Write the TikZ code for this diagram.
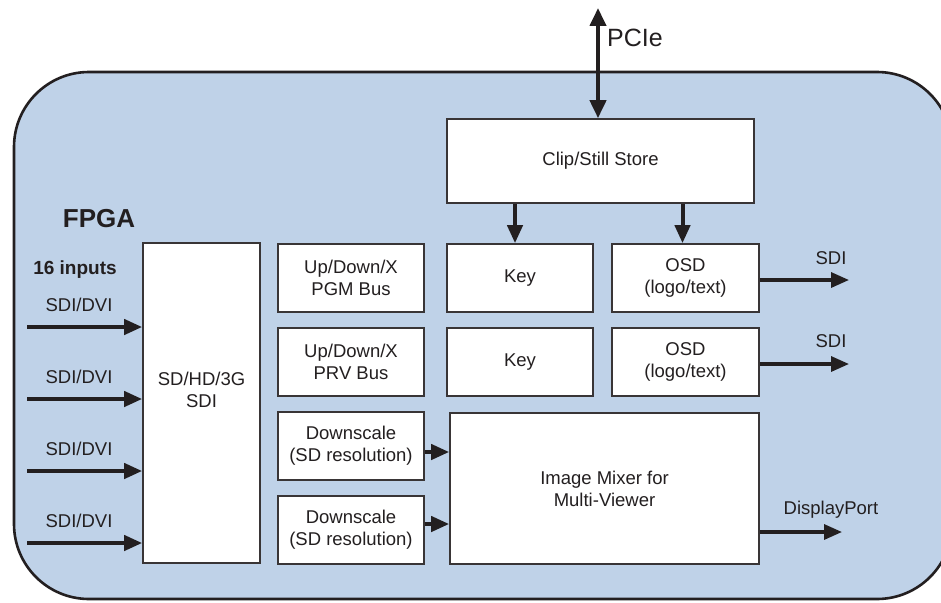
\documentclass[tikz,border=0pt]{standalone}
\usepackage{fontspec}
\setmainfont{Liberation Sans}
\usetikzlibrary{positioning, arrows.meta}
\definecolor{ink}{RGB}{35, 31, 32}
\definecolor{fpgablue}{RGB}{191, 210, 232}

\begin{document}
\begin{tikzpicture}[
    x=1pt, y=-1pt,
    block/.style={rectangle, draw=ink!90, line width=1.6pt, fill=white, text=ink,
        align=center, inner sep=0pt, font=\fontsize{18.5}{22}\selectfont},
    lbl/.style={text=ink, inner sep=0pt, font=\fontsize{18.5}{22}\selectfont},
    arrow/.style={-{Triangle[length=18pt, width=15pt]}, line width=4pt, draw=ink},
    outarrow/.style={arrow, line width=3.2pt},
    dblarrow/.style={{Triangle[length=18pt, width=16pt]}-{Triangle[length=18pt, width=16pt]}, line width=4pt, draw=ink}
]
    \clip (0,0) rectangle (941,602);
    \useasboundingbox (0,0) rectangle (941,602);

    % FPGA outline
    \draw[draw=ink, line width=2.6pt, fill=fpgablue, rounded corners=75pt] (14,72) rectangle (952,599);
    \node[text=ink, font=\fontsize{26}{30}\selectfont\bfseries] (fpga) at (99, 219) {FPGA};

    % Input stage
    \node[block, minimum width=117pt, minimum height=320pt] (sdi) at (201.5, 403) {};
    \node[lbl, align=center] (sditext) at (201.5, 390) {SD/HD/3G\\SDI};
    \node[lbl, font=\fontsize{19}{22}\selectfont\bfseries] (inputs) at (75, 270) {16 inputs};

    % Processing columns
    \node[block, minimum width=146pt, minimum height=68pt] (pgm) at (351, 278) {Up/Down/X\\PGM Bus};
    \node[block, minimum width=146pt, minimum height=68pt] (prv) at (351, 362) {Up/Down/X\\PRV Bus};
    \node[block, minimum width=146pt, minimum height=68pt] (down1) at (351, 446) {Downscale\\(SD resolution)};
    \node[block, minimum width=146pt, minimum height=68pt] (down2) at (351, 530) {Downscale\\(SD resolution)};
    \node[block, minimum width=146pt, minimum height=68pt] (key1) at (520, 278) {Key};
    \node[block, minimum width=146pt, minimum height=68pt] (key2) at (520, 362) {Key};
    \node[block, minimum width=147pt, minimum height=68pt] (osd1) at (685.5, 278) {OSD\\(logo/text)};
    \node[block, minimum width=147pt, minimum height=68pt] (osd2) at (685.5, 362) {OSD\\(logo/text)};
    \node[block, minimum width=309pt, minimum height=151pt] (mixer) at (604.5, 488.5) {Image Mixer for\\Multi-Viewer};
    \node[block, minimum width=307pt, minimum height=84pt] (clip) at (600.5, 161) {Clip/Still Store};

    % PCIe
    \coordinate (host) at (598, 8);
    \draw[dblarrow] (host) -- (host |- clip.north);
    \node[text=ink, anchor=west, inner sep=0pt, font=\fontsize{25}{28}\selectfont] (pcie) at (607, 38) {PCIe};

    % Clip store to Key / OSD
    \draw[arrow] ([xshift=-5pt]key1.north |- clip.south) -- ([xshift=-5pt]key1.north);
    \draw[arrow] ([xshift=-3pt]osd1.north |- clip.south) -- ([xshift=-3pt]osd1.north);

    % Inputs
    \foreach \y [count=\i] in {327, 399, 471, 543} {
        \coordinate (in\i) at (27, \y);
        \draw[arrow] (in\i) -- (in\i -| sdi.west);
        \node[lbl] (lin\i) at (79, \y-22) {SDI/DVI};
    }

    % Downscale to mixer
    \draw[arrow] ([yshift=-6pt]down1.east) -- ([yshift=-6pt]down1.east -| mixer.west);
    \draw[arrow] ([yshift=6pt]down2.east) -- ([yshift=6pt]down2.east -| mixer.west);

    % Outputs
    \coordinate (sdiout1) at (849, 280);
    \coordinate (sdiout2) at (849, 364);
    \coordinate (dpout) at (842, 532);
    \draw[outarrow] (sdiout1 -| osd1.east) -- (sdiout1);
    \draw[outarrow] (sdiout2 -| osd2.east) -- (sdiout2);
    \draw[outarrow] (dpout -| mixer.east) -- (dpout);
    \node[lbl] (lsdi1) at (831, 258) {SDI};
    \node[lbl] (lsdi2) at (831, 341) {SDI};
    \node[lbl] (ldp) at (831, 510) {DisplayPort};
\end{tikzpicture}
\end{document}
